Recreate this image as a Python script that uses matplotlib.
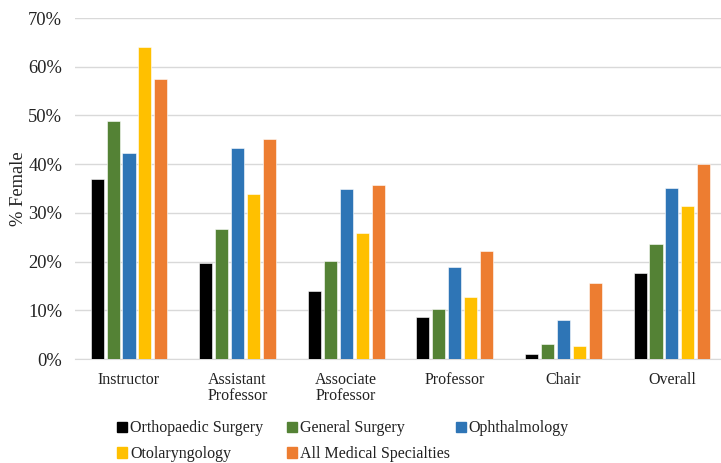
import numpy as np
import matplotlib
matplotlib.use("Agg")
import matplotlib.pyplot as plt
from matplotlib.patches import Patch

plt.rcParams['font.family'] = ['Liberation Serif', 'DejaVu Serif']

categories = ["Instructor", "Assistant\nProfessor", "Associate\nProfessor",
              "Professor", "Chair", "Overall"]
series_names = ["Orthopaedic Surgery", "General Surgery", "Ophthalmology",
                "Otolaryngology", "All Medical Specialties"]
ortho = [37.0, 19.7, 14.0, 8.6, 1.0, 17.7]
general = [48.9, 26.7, 20.1, 10.3, 3.1, 23.6]
ophth = [42.3, 43.3, 34.9, 18.9, 8.0, 35.1]
otolaryn = [64.1, 33.9, 25.9, 12.7, 2.7, 31.4]
all_med = [57.5, 45.2, 35.7, 22.2, 15.6, 40.0]
colors = ["#000000", "#548235", "#2E75B6", "#FFC000", "#ED7D31"]

values = [ortho, general, ophth, otolaryn, all_med]
txt = "#222222"

fig = plt.figure(figsize=(7.21, 4.63), dpi=100)
ax = fig.add_axes([0.1036, 0.2246, 0.9037, 0.7365])

x = np.arange(len(categories))
step = 0.147
width = 0.12
for k, (vals, col) in enumerate(zip(values, colors)):
    ax.bar(x + (k - 2) * step, vals, width, color=col, zorder=3,
           edgecolor="white", linewidth=0.4)

ax.set_xlim(-0.5, 5.5)
ax.set_ylim(0, 70)
ax.set_yticks(np.arange(0, 71, 10))
ax.set_yticklabels([f"{v}%" for v in range(0, 71, 10)])
ax.grid(axis="y", color="#D9D9D9", linewidth=1.0, zorder=0)
for s in ["top", "right", "left"]:
    ax.spines[s].set_visible(False)
ax.spines["bottom"].set_color("#D9D9D9")
ax.tick_params(axis="y", length=0, pad=9, labelsize=13.3, labelcolor=txt)

ax.set_xticks(x)
ax.set_xticklabels(categories, fontsize=11.5, color=txt, linespacing=1.05)
ax.tick_params(axis="x", length=0, pad=9)

ax.set_ylabel("% Female", fontsize=13.3, color=txt)
ax.yaxis.set_label_coords(-0.073, 0.5)

# legend laid out as three columns, like the Excel original
columns = [([0, 3], 0.162), ([1, 4], 0.398), ([2], 0.632)]
for idx, xpos in columns:
    handles = [Patch(color=colors[i]) for i in idx]
    labels = [series_names[i] for i in idx]
    fig.legend(handles, labels, loc="upper left", bbox_to_anchor=(xpos, 0.092),
               ncol=1, frameon=False, fontsize=11.5, borderpad=0, borderaxespad=0,
               handlelength=0.625, handleheight=0.625, handletextpad=0.2,
               labelspacing=0.62, labelcolor=txt)

fig.savefig("out.png", dpi=100)
